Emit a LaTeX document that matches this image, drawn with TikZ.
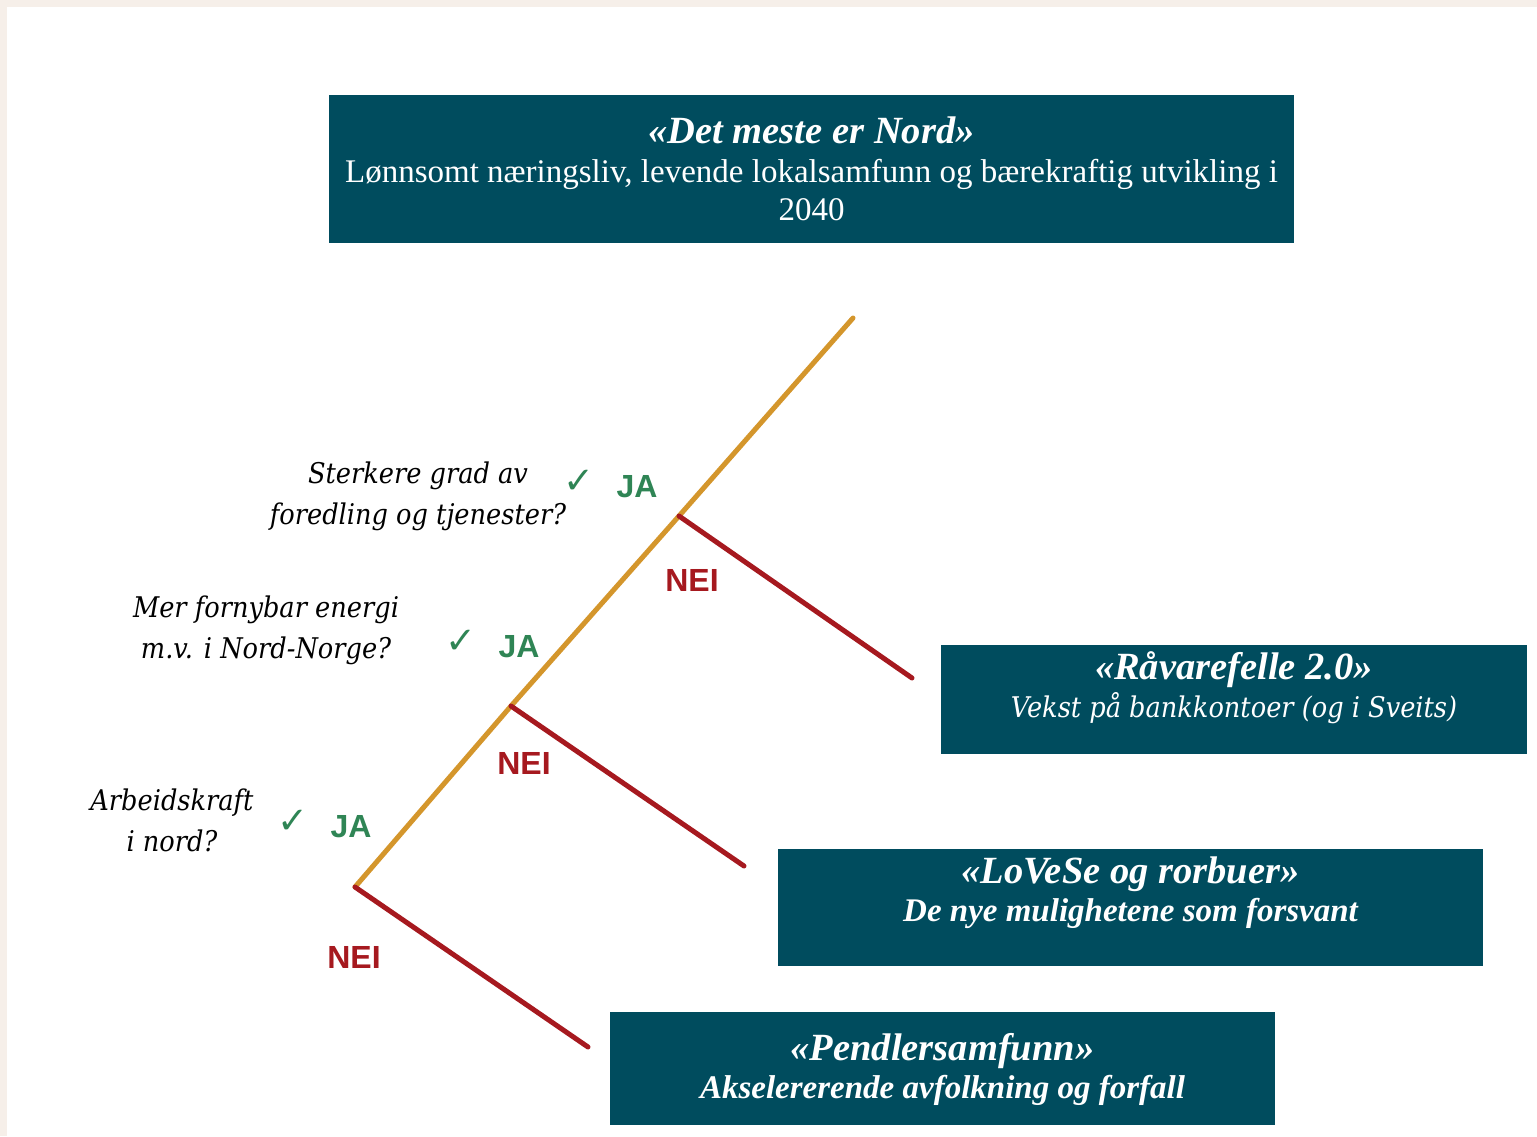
\documentclass[tikz,border=0pt]{standalone}
\usepackage{fontspec}
\setmainfont{Liberation Serif}
\newfontfamily\askfont{DejaVu Serif}[FakeStretch=0.9]
\newfontfamily\tagfont{Liberation Sans}
\newfontfamily\symfont{DejaVu Sans}
\usetikzlibrary{positioning}

\definecolor{scenteal}{HTML}{004C5E}
\definecolor{yesgold}{HTML}{D4962C}
\definecolor{yesgreen}{HTML}{2F8555}
\definecolor{nored}{HTML}{A6191F}
\definecolor{pagebeige}{HTML}{F6EFE9}

\begin{document}
\begin{tikzpicture}[x=1pt, y=-1pt,
    scenario/.style={rectangle, fill=scenteal, inner sep=0pt},
    scentext/.style={align=center, text=white, inner sep=0pt, font=\fontsize{33}{38}\selectfont},
    question/.style={align=center, inner sep=0pt, font=\askfont\itshape\fontsize{28.5}{41}\selectfont},
    tick/.style={text=yesgreen, inner sep=0pt, font=\symfont\fontsize{37}{37}\selectfont},
    yes/.style={text=yesgreen, inner sep=0pt, font=\tagfont\bfseries\fontsize{32}{32}\selectfont},
    no/.style={text=nored, inner sep=0pt, font=\tagfont\bfseries\fontsize{32}{32}\selectfont},
    yesline/.style={draw=yesgold, line width=5pt, line cap=round},
    noline/.style={draw=nored, line width=5pt, line cap=round}]
    % Page with beige edge
    \fill[pagebeige] (0,0) rectangle (1537,1136);
    \fill[white] (7,7) rectangle (1537,1136);
    \useasboundingbox (0,0) rectangle (1537,1136);

    % Scenario boxes
    \node[scenario, minimum width=965pt, minimum height=148pt] (goal) at (811.5,169) {};
    \node[scentext] (goal-txt) at (goal) {{\fontsize{38.5}{40}\selectfont\bfseries\itshape «Det meste er Nord»}\\[1pt]
        Lønnsomt næringsliv, levende lokalsamfunn og bærekraftig utvikling i\\ 2040};

    \node[scenario, minimum width=586pt, minimum height=109pt] (raw) at (1234,699.5) {};
    \node[scentext] (raw-txt) at ([yshift=12pt]raw.center) {{\fontsize{38.5}{40}\selectfont\bfseries\itshape «Råvarefelle 2.0»}\\
        {\askfont\itshape\fontsize{28.5}{38}\selectfont Vekst på bankkontoer (og i Sveits)}};

    \node[scenario, minimum width=705pt, minimum height=117pt] (lovese) at (1130.5,907.5) {};
    \node[scentext, font=\fontsize{33}{38}\selectfont\bfseries\itshape] (lovese-txt) at ([yshift=15pt]lovese.center)
        {{\fontsize{38.5}{40}\selectfont «LoVeSe og rorbuer»}\\ De nye mulighetene som forsvant};

    \node[scenario, minimum width=665pt, minimum height=113pt] (commute) at (942.5,1068.5) {};
    \node[scentext, font=\fontsize{33}{38}\selectfont\bfseries\itshape] (commute-txt) at ([yshift=-1pt]commute.center)
        {{\fontsize{38.5}{40}\selectfont «Pendlersamfunn»}\\ Akselererende avfolkning og forfall};

    % Decision tree
    \coordinate (j1) at (355,887);
    \coordinate (j2) at (511,706);
    \coordinate (j3) at (679,516);
    \coordinate (tip) at (853,318);
    \coordinate (e1) at (588,1047);
    \coordinate (e2) at (744,866);
    \coordinate (e3) at (912,678);

    \draw[yesline] (j1) -- (j2) -- (j3) -- (tip);
    \draw[noline] (j3) -- (e3);
    \draw[noline] (j2) -- (e2);
    \draw[noline] (j1) -- (e1);

    % Questions
    \node[question] (q3) at (418,496) {Sterkere grad av\\ foredling og tjenester?};
    \node[question] (q2) at (266,630) {Mer fornybar energi\\ m.v. i Nord-Norge?};
    \node[question] (q1) at (172,820) {Arbeidskraft\\ i nord?};

    % Answers
    \node[yes] (ja3) at (637,487) {JA};
    \node[yes] (ja2) at (519,647) {JA};
    \node[yes] (ja1) at (351,827) {JA};
    \node[tick, left=22pt of ja3, yshift=5pt] (tick3) {✓};
    \node[tick, left=22pt of ja2, yshift=5pt] (tick2) {✓};
    \node[tick, left=22pt of ja1, yshift=5pt] (tick1) {✓};

    \node[no] (nei3) at (692,580) {NEI};
    \node[no] (nei2) at (524,763) {NEI};
    \node[no] (nei1) at (354,957) {NEI};
\end{tikzpicture}
\end{document}
